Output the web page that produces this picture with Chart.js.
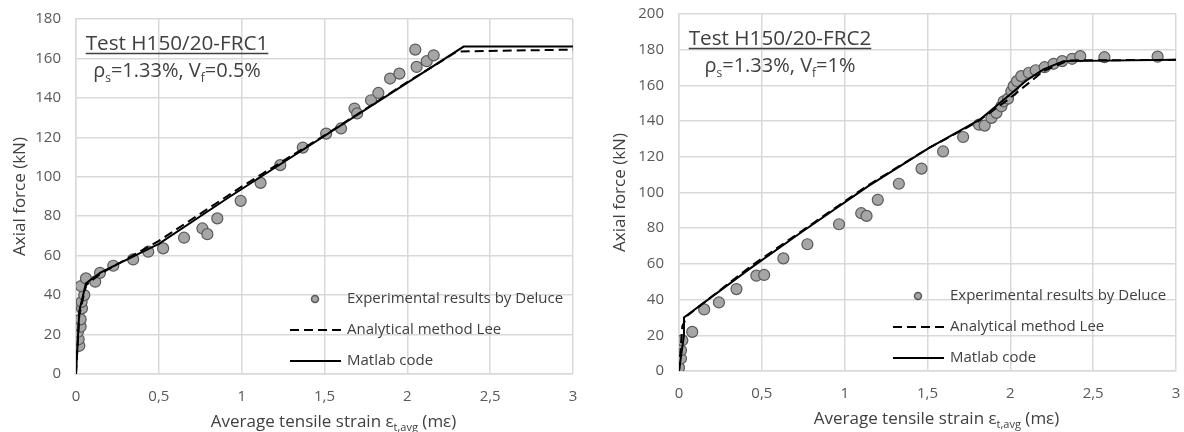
<!DOCTYPE html>
<html>
<head>
<meta charset="utf-8">
<script src="https://cdn.jsdelivr.net/npm/chart.js@4.4.1/dist/chart.umd.min.js"></script>
<style>
  body { margin: 0; background: #fff; }
  #wrap { position: relative; width: 1184px; height: 432px; overflow: hidden; }
  .box { position: absolute; top: 0; height: 432px; }
  #left { left: 0; width: 600px; }
  #right { left: 600px; width: 584px; }
</style>
</head>
<body>
<div id="wrap">
  <div class="box" id="left"><canvas id="c1" width="600" height="432"></canvas></div>
  <div class="box" id="right"><canvas id="c2" width="584" height="432"></canvas></div>
</div>
<script>
const FONT = "'Open Sans', 'Liberation Sans', sans-serif";

// shared tick labels
const xTickValues = [0, 0.5, 1, 1.5, 2, 2.5, 3];
const xTickLabels = ['0', '0,5', '1', '1,5', '2', '2,5', '3'];

// --- Test H150/20-FRC1 ---
const exp1X = [0.020, 0.016, 0.012, 0.028, 0.028, 0.036, 0.034, 0.050, 0.030, 0.060,
               0.116, 0.145, 0.225, 0.345, 0.436, 0.526, 0.652, 0.763, 0.793, 0.853,
               0.994, 1.114, 1.233, 1.369, 1.510, 1.600, 1.681, 1.697, 1.781, 1.825,
               1.896, 1.952, 2.048, 2.056, 2.117, 2.159];
const exp1Y = [14.3, 17.6, 21.4, 24.0, 27.7, 33.3, 36.6, 40.0, 44.6, 48.5,
               46.8, 51.3, 54.9, 58.1, 62.0, 63.7, 69.1, 73.8, 70.9, 78.9,
               87.8, 96.9, 105.9, 114.8, 121.9, 124.5, 134.6, 132.1, 138.8, 142.5,
               149.8, 152.3, 164.5, 155.7, 158.6, 161.6];
const lee1X = [0, 0.02, 0.06, 0.15, 0.5, 1.0, 1.5, 2.0, 2.3, 3];
const lee1Y = [0, 30, 45, 51, 67.5, 95, 121, 148, 163.5, 164.5];
const mat1X = [0, 0.02, 0.06, 0.15, 0.5, 0.93, 2.34, 3];
const mat1Y = [0, 32, 46, 51.5, 66, 90, 166, 166];
const yTicks1 = [0, 20, 40, 60, 80, 100, 120, 140, 160, 180];

// --- Test H150/20-FRC2 ---
const exp2X = [0.000, 0.012, 0.012, 0.020, 0.080, 0.152, 0.241, 0.347, 0.467, 0.514,
               0.630, 0.775, 0.966, 1.100, 1.132, 1.200, 1.327, 1.464, 1.594, 1.715,
               1.811, 1.845, 1.886, 1.916, 1.946, 1.960, 1.986, 2.006, 2.020, 2.040,
               2.066, 2.112, 2.153, 2.207, 2.261, 2.313, 2.373, 2.422, 2.568, 2.889];
const exp2Y = [1.9, 7.0, 11.6, 17.2, 21.9, 34.5, 38.4, 45.9, 53.4, 53.8,
               63.1, 71.0, 82.2, 88.4, 86.9, 95.9, 104.9, 113.4, 123.0, 131.1,
               138.0, 137.5, 141.8, 144.6, 148.3, 151.1, 152.6, 156.7, 159.6, 162.4,
               165.2, 167.1, 168.5, 170.2, 172.1, 173.6, 174.9, 176.4, 175.8, 176.1];
const lee2X = [0, 0.02, 0.05, 0.43, 0.75, 1.14, 1.5, 1.8, 2.0, 2.2, 2.35, 3];
const lee2Y = [0, 25, 31, 58.5, 79, 104, 124.5, 139.5, 153, 168, 174, 174.3];
const mat2X = [0, 0.03, 0.03, 0.43, 0.73, 1.14, 1.51, 1.815, 2.0, 2.1, 2.2, 2.32, 3];
const mat2Y = [0, 20, 30, 57.5, 77.2, 103.4, 125, 140.8, 155, 163, 169, 173.6, 174.3];
const yTicks2 = [0, 20, 40, 60, 80, 100, 120, 140, 160, 180, 200];

const legendLabels = ['Experimental results by Deluce', 'Analytical method Lee', 'Matlab code'];

function pts(xs, ys) {
    return xs.map((x, i) => ({ x: x, y: ys[i] }));
}

// draws normal and subscript runs in a row, centred on cx
function drawRuns(ctx, runs, cx, y, size, subSize) {
    let total = 0;
    runs.forEach(r => {
        ctx.font = (r.sub ? subSize : size) + 'px ' + FONT;
        r.w = ctx.measureText(r.t).width;
        total += r.w;
    });
    let x = cx - total / 2;
    ctx.textAlign = 'left';
    ctx.textBaseline = 'alphabetic';
    runs.forEach(r => {
        ctx.font = (r.sub ? subSize : size) + 'px ' + FONT;
        ctx.fillText(r.t, x, r.sub ? y + size * 0.25 : y);
        x += r.w;
    });
    return { left: cx - total / 2, width: total };
}

const textPlugin = {
    id: 'texts',
    afterDraw(chart) {
        const ctx = chart.ctx;
        const a = chart.chartArea;
        const o = chart.options.plugins.texts;
        ctx.save();
        ctx.fillStyle = '#404040';
        ctx.strokeStyle = '#404040';

        // test name
        const t = drawRuns(ctx, [{ t: o.test }], a.left + 101, a.top + 31, 20.7, 13);
        ctx.lineWidth = 1.5;
        ctx.beginPath();
        ctx.moveTo(t.left, a.top + 34.5);
        ctx.lineTo(t.left + t.width, a.top + 34.5);
        ctx.stroke();
        drawRuns(ctx, [{ t: 'ρ' }, { t: 's', sub: true }, { t: '=1.33%, V' }, { t: 'f', sub: true }, { t: o.vf }],
            a.left + 101, a.top + 58, 20, 12);

        // legend
        const lx = a.left + 214, tx = a.left + 271;
        const rows = [a.bottom - 75, a.bottom - 44, a.bottom - 13];
        ctx.beginPath();
        ctx.arc(a.left + 239, rows[0], 3.5, 0, Math.PI * 2);
        ctx.fillStyle = '#a6a6a6';
        ctx.fill();
        ctx.lineWidth = 1.5;
        ctx.strokeStyle = '#595959';
        ctx.stroke();
        ctx.strokeStyle = '#000';
        ctx.lineWidth = 2;
        ctx.setLineDash([9, 5]);
        ctx.beginPath();
        ctx.moveTo(lx, rows[1]);
        ctx.lineTo(lx + 51, rows[1]);
        ctx.stroke();
        ctx.setLineDash([]);
        ctx.beginPath();
        ctx.moveTo(lx, rows[2]);
        ctx.lineTo(lx + 51, rows[2]);
        ctx.stroke();
        ctx.fillStyle = '#404040';
        ctx.font = '15px ' + FONT;
        ctx.textAlign = 'left';
        ctx.textBaseline = 'middle';
        legendLabels.forEach((l, i) => ctx.fillText(l, tx, rows[i]));

        // x axis title with subscript
        drawRuns(ctx, [{ t: 'Average tensile strain ε' }, { t: 't,avg', sub: true }, { t: ' (mε)' }],
            (a.left + a.right) / 2 + 9, a.bottom + 53, 17, 11);
        ctx.restore();
    }
};

function makeChart(id, cfg) {
    return new Chart(document.getElementById(id), {
        type: 'scatter',
        data: {
            datasets: [
                {
                    label: legendLabels[2],
                    data: pts(cfg.matX, cfg.matY),
                    showLine: true,
                    borderColor: '#000',
                    borderWidth: 2,
                    pointRadius: 0,
                    order: 1
                },
                {
                    label: legendLabels[1],
                    data: pts(cfg.leeX, cfg.leeY),
                    showLine: true,
                    borderColor: '#000',
                    borderWidth: 2,
                    borderDash: [9, 5],
                    pointRadius: 0,
                    order: 2
                },
                {
                    label: legendLabels[0],
                    data: pts(cfg.expX, cfg.expY),
                    pointRadius: 5.5,
                    pointBackgroundColor: '#a6a6a6',
                    pointBorderColor: '#5a5a5a',
                    pointBorderWidth: 1.2,
                    order: 3
                }
            ]
        },
        options: {
            responsive: false,
            animation: false,
            events: [],
            layout: { padding: { left: 0, top: cfg.top, right: cfg.right, bottom: 0 } },
            plugins: {
                legend: { display: false },
                tooltip: { enabled: false },
                texts: { test: cfg.test, vf: cfg.vf }
            },
            scales: {
                x: {
                    type: 'linear',
                    min: 0,
                    max: 3,
                    afterBuildTicks: s => { s.ticks = xTickValues.map(v => ({ value: v })); },
                    afterFit: s => {
                        s.height = cfg.xh;
                        s.paddingLeft = 0;
                        s.paddingRight = 0;
                    },
                    ticks: {
                        padding: 14,
                        color: '#595959',
                        font: { family: FONT, size: 15 },
                        callback: (v) => xTickLabels[xTickValues.indexOf(v)]
                    },
                    grid: { color: '#d9d9d9', lineWidth: 1.5, drawTicks: false },
                    border: { color: '#d9d9d9', width: 1.5 }
                },
                y: {
                    type: 'linear',
                    min: 0,
                    max: cfg.yTicks[cfg.yTicks.length - 1],
                    afterBuildTicks: s => { s.ticks = cfg.yTicks.map(v => ({ value: v })); },
                    afterFit: s => {
                        s.width = cfg.yw;
                        s.paddingTop = 0;
                        s.paddingBottom = 0;
                    },
                    ticks: {
                        padding: 15,
                        color: '#595959',
                        font: { family: FONT, size: 15 }
                    },
                    title: {
                        display: true,
                        text: 'Axial force (kN)',
                        color: '#404040',
                        font: { family: FONT, size: 17 },
                        padding: { top: 10, bottom: 0 }
                    },
                    grid: { color: '#d9d9d9', lineWidth: 1.5, drawTicks: false },
                    border: { color: '#d9d9d9', width: 1.5 }
                }
            }
        },
        plugins: [textPlugin]
    });
}

makeChart('c1', {
    expX: exp1X, expY: exp1Y, leeX: lee1X, leeY: lee1Y, matX: mat1X, matY: mat1Y,
    yTicks: yTicks1, test: 'Test H150/20-FRC1', vf: '=0.5%',
    top: 19, right: 27, yw: 76, xh: 58
});
makeChart('c2', {
    expX: exp2X, expY: exp2Y, leeX: lee2X, leeY: lee2Y, matX: mat2X, matY: mat2Y,
    yTicks: yTicks2, test: 'Test H150/20-FRC2', vf: '=1%',
    top: 14, right: 8, yw: 79, xh: 61
});
</script>
</body>
</html>
